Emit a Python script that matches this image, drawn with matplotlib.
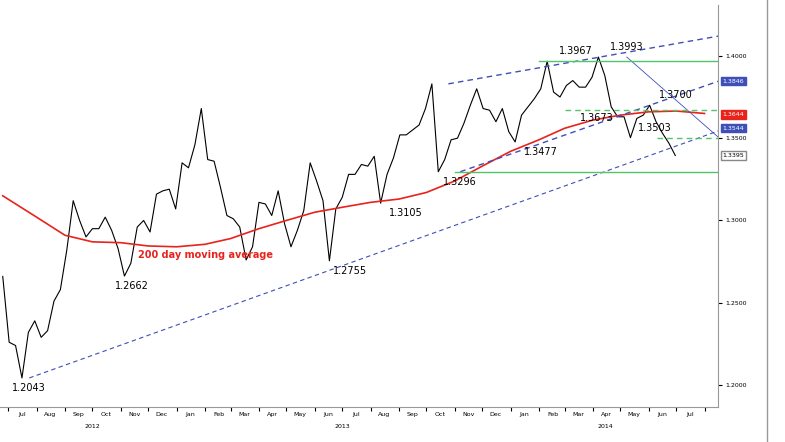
import numpy as np
import pandas as pd
import matplotlib.pyplot as plt
import matplotlib.dates as mdates
from matplotlib.lines import Line2D

# weekly closes (swing weeks use the extreme), EUR/USD
dates = pd.date_range("2012-06-25", periods=111, freq="W-MON")
closes = [1.2660,
    1.2260, 1.2240, 1.2043, 1.2320, 1.2390,
    1.2290, 1.2330, 1.2510, 1.2580,
    1.2820, 1.3120, 1.3000, 1.2900,
    1.2950, 1.2950, 1.3020, 1.2940,
    1.2830, 1.2662, 1.2740, 1.2960,
    1.3000, 1.2930, 1.3160, 1.3180, 1.3190,
    1.3070, 1.3350, 1.3320, 1.3460,
    1.3680, 1.3370, 1.3360, 1.3200,
    1.3030, 1.3010, 1.2960, 1.2760,
    1.2840, 1.3110, 1.3100, 1.3030,
    1.3180, 1.2980, 1.2840, 1.2940,
    1.3060, 1.3350, 1.3240, 1.3120,
    1.2755, 1.3070, 1.3140, 1.3280,
    1.3280, 1.3340, 1.3330, 1.3390,
    1.3105, 1.3280, 1.3380, 1.3520, 1.3520,
    1.3550, 1.3580, 1.3680, 1.3830,
    1.3296, 1.3370, 1.3490, 1.3500,
    1.3590, 1.3700, 1.3800, 1.3680,
    1.3670, 1.3600, 1.3680, 1.3540,
    1.3477, 1.3640, 1.3690, 1.3740,
    1.3800, 1.3967, 1.3780, 1.3750,
    1.3820, 1.3850, 1.3810, 1.3810, 1.3870,
    1.3993, 1.3880, 1.3690, 1.3630,
    1.3630, 1.3503, 1.3620, 1.3640,
    1.3700, 1.3600, 1.3530, 1.3470, 1.3395]
dates = dates[:len(closes)]

# 200 day moving average, monthly reads
ma_dates = pd.to_datetime(["2012-06-25", "2012-08-01", "2012-09-01", "2012-10-01", "2012-11-01",
                           "2012-12-01", "2013-01-01", "2013-02-01", "2013-03-01", "2013-04-01",
                           "2013-05-01", "2013-06-01", "2013-07-01", "2013-08-01", "2013-09-01",
                           "2013-10-01", "2013-11-01", "2013-12-01", "2014-01-01", "2014-02-01",
                           "2014-03-01", "2014-04-01", "2014-05-01", "2014-06-01", "2014-07-01",
                           "2014-08-01"])
ma_vals = [1.3150, 1.3020, 1.2910, 1.2870, 1.2865, 1.2845, 1.2840, 1.2855, 1.2890, 1.2950,
           1.3000, 1.3050, 1.3080, 1.3110, 1.3130, 1.3170, 1.3240, 1.3330, 1.3420, 1.3490,
           1.3560, 1.3610, 1.3640, 1.3660, 1.3665, 1.3650]

# labelled swing points
pivots = [("2012-07-24", 1.2043, "below"), ("2012-11-13", 1.2662, "below"),
          ("2013-07-09", 1.2755, "below"), ("2013-09-09", 1.3105, "below"),
          ("2013-11-07", 1.3296, "below"), ("2014-02-03", 1.3477, "below"),
          ("2014-03-13", 1.3967, "above"), ("2014-05-08", 1.3993, "above"),
          ("2014-07-01", 1.3700, "above")]

d = mdates.date2num
fig = plt.figure(figsize=(7.85, 4.42), dpi=100)
ax = fig.add_axes([0.0, 0.079, 0.915, 0.91])
x0, x1 = d(pd.Timestamp("2012-06-22")), d(pd.Timestamp("2014-08-16"))
ax.set_xlim(x0, x1)
ax.set_ylim(1.1866, 1.4310)

ax.plot(dates, closes, color="black", lw=0.8)
ax.plot(ma_dates, ma_vals, color="#e8231c", lw=1.2)
ax.text(d(pd.Timestamp("2012-11-20")), 1.2770, "200 day moving average", color="#e8231c",
        fontsize=7, fontweight="bold")

blue = "#3e4fb8"

def seg(t0, v0, t1, v1, **kw):
    ax.plot([d(pd.Timestamp(t0)), d(pd.Timestamp(t1))], [v0, v1], **kw)

# trend lines
seg("2012-07-24", 1.2043, "2014-08-16", 1.3544, color=blue, lw=0.8, ls=(0, (4, 3)))
seg("2013-10-25", 1.3830, "2014-08-16", 1.4120, color=blue, lw=1.0, ls=(0, (4, 3)))
seg("2013-11-07", 1.3296, "2014-08-16", 1.3846, color=blue, lw=1.0, ls=(0, (4, 3)))
seg("2014-05-08", 1.3993, "2014-08-16", 1.3506, color=blue, lw=0.6)
green = "#52c46a"
seg("2014-02-01", 1.3967, "2014-08-16", 1.3967, color=green, lw=1.0)
seg("2013-11-01", 1.3296, "2014-08-16", 1.3296, color=green, lw=1.0)
seg("2014-03-01", 1.3673, "2014-08-16", 1.3673, color=green, lw=1.0, ls=(0, (4, 3)))
seg("2014-06-10", 1.3503, "2014-08-16", 1.3503, color=green, lw=1.0, ls=(0, (4, 3)))

for t, v, pos in pivots:
    off = -0.003 if pos == "below" else 0.003
    ax.text(d(pd.Timestamp(t)), v + off, f"{v:.4f}", ha="center",
            va="top" if pos == "below" else "bottom", fontsize=7)
ax.text(d(pd.Timestamp("2014-04-05")), 1.3655, "1.3673", ha="center", va="top", fontsize=7)
ax.text(d(pd.Timestamp("2014-06-08")), 1.3530, "1.3503", ha="center", va="bottom", fontsize=7)

# right axis
ax.yaxis.tick_right()
ax.set_yticks([1.20, 1.25, 1.30, 1.35, 1.40])
ax.set_yticklabels(["1.2000", "1.2500", "1.3000", "1.3500", "1.4000"], fontsize=4.5)
ax.tick_params(axis="y", length=3, pad=2)
for v, txt, fc in [(1.3846, "1.3846", blue), (1.3644, "1.3644", "#e8231c"),
                   (1.3560, "1.3544", blue), (1.3395, "1.3395", "white")]:
    ax.text(1.006, v, txt, transform=ax.get_yaxis_transform(), fontsize=4.5, va="center",
            color="black" if fc == "white" else "white",
            bbox=dict(boxstyle="square,pad=0.25", fc=fc, ec="#888888" if fc == "white" else fc))

# month ticks
months = pd.date_range("2012-07-01", "2014-08-01", freq="MS")
ax.set_xticks([d(m) for m in months])
ax.set_xticklabels([])
ax.tick_params(axis="x", length=3)
for m in months[:-1]:
    ax.text(d(m + pd.Timedelta(days=15)), -0.012, m.strftime("%b"), transform=ax.get_xaxis_transform(),
            ha="center", va="top", fontsize=4.5)
for yr, mid in [("2012", "2012-10-01"), ("2013", "2013-07-01"), ("2014", "2014-04-15")]:
    ax.text(d(pd.Timestamp(mid)), -0.042, yr, transform=ax.get_xaxis_transform(),
            ha="center", va="top", fontsize=4.5)

for side in ["top", "left"]:
    ax.spines[side].set_visible(False)
ax.spines["right"].set_color("#999999")
ax.spines["bottom"].set_color("#999999")
fig.add_artist(Line2D([0.977, 0.977], [0, 1], color="#999999", lw=1))

fig.savefig("out.png", dpi=100)
